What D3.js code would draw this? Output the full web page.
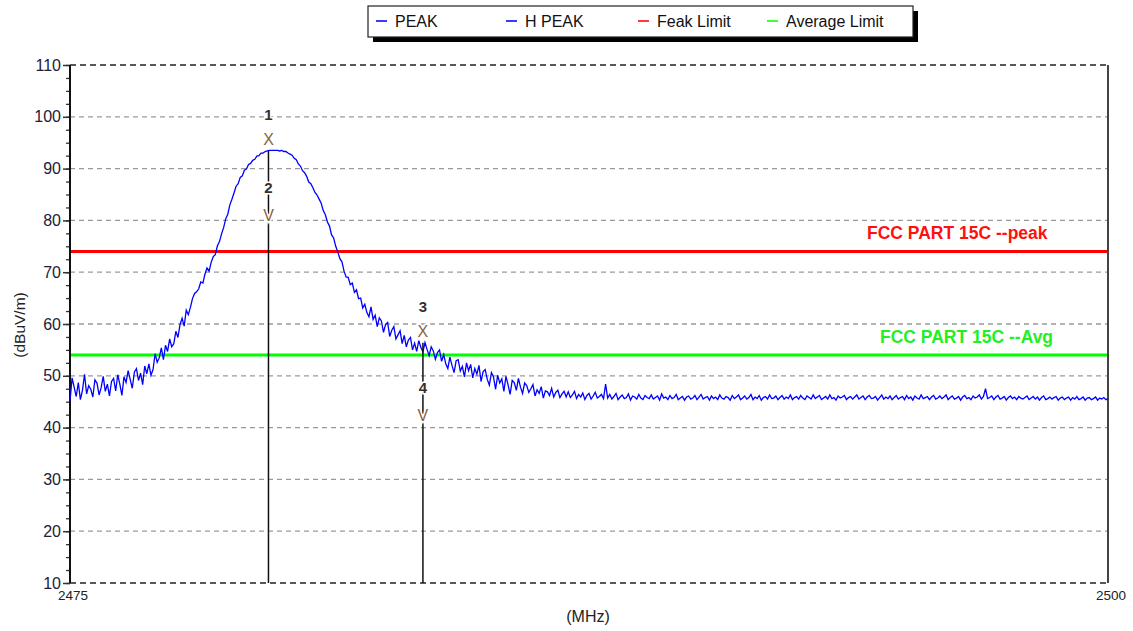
<!DOCTYPE html>
<html><head><meta charset="utf-8">
<script src="https://cdn.jsdelivr.net/npm/d3@7"></script>
<style>body{margin:0;background:#fff;} svg{display:block;font-family:"Liberation Sans",Arial,sans-serif;}</style>
</head><body><svg id="c" width="1133" height="631"></svg>
<script>
// ---------- data ----------
const freqStart = 2475, freqEnd = 2500, freqStep = 0.05;
const peakTrace = [
45.1,49.6,47.8,46.0,48.7,45.4,47.2,50.3,46.5,48.1,47.4,45.9,49.2,48.6,46.3,47.7,49.9,47.0,48.4,46.1,
48.9,49.5,47.1,50.2,48.4,46.2,49.8,48.7,51.0,49.3,47.6,50.7,51.4,49.1,50.5,48.3,51.9,50.4,52.3,50.1,
51.2,54.3,52.6,53.5,55.4,53.1,55.9,54.7,57.1,55.6,56.2,58.6,57.4,59.9,61.1,59.6,62.7,61.8,63.2,64.9,
65.9,66.2,66.8,68.1,67.9,69.6,70.8,70.2,71.9,73.0,73.4,75.1,75.9,77.4,78.6,80.3,81.2,83.0,84.1,85.3,
86.6,87.1,88.3,88.6,89.7,89.9,90.8,91.0,91.6,91.8,92.4,92.5,93.0,93.0,93.3,93.4,93.5,93.5,93.5,93.5,
93.5,93.4,93.5,93.3,93.3,93.0,92.8,92.6,92.0,91.7,90.9,90.5,89.6,89.2,88.5,87.4,87.1,86.3,85.4,84.9,
84.1,83.3,81.9,81.1,79.7,78.9,77.2,76.6,75.0,73.9,72.6,72.0,70.2,69.1,69.0,67.6,67.9,66.1,66.6,64.9,
65.0,63.1,63.8,62.2,61.4,63.3,60.9,61.7,59.5,61.2,60.6,58.4,59.9,60.3,57.6,58.8,59.5,57.1,57.9,58.7,
56.2,57.8,55.6,56.9,57.4,55.0,56.3,54.7,56.8,55.5,54.6,56.4,55.1,53.9,55.6,54.8,53.2,54.5,55.0,52.8,
54.1,52.3,51.4,53.6,52.0,50.6,52.9,53.1,50.9,51.8,49.8,52.5,51.0,52.2,49.6,51.4,50.3,52.0,48.9,50.8,
51.2,49.3,48.2,50.6,49.8,47.4,50.1,48.6,49.4,47.0,49.9,48.3,46.4,49.1,48.7,47.2,49.5,47.8,46.6,48.6,
48.1,46.8,47.5,48.3,46.1,47.3,46.6,47.9,45.7,47.1,46.9,46.2,47.6,45.9,46.8,47.2,45.8,46.5,47.0,45.9,
46.9,45.8,46.3,47.0,45.6,46.4,45.9,46.7,45.4,46.2,46.6,45.5,46.1,46.8,45.7,46.0,46.4,45.6,48.4,45.7,
46.4,45.5,46.0,46.6,45.4,45.9,46.3,45.6,45.8,46.5,45.3,46.1,45.9,45.5,46.4,45.7,45.4,46.2,45.8,45.6,
46.3,45.5,45.8,46.1,45.3,46.5,45.7,45.9,45.4,46.2,45.6,45.8,46.4,45.4,45.7,46.0,45.3,45.9,46.1,45.5,
45.7,46.2,45.4,45.9,46.4,45.5,45.8,46.0,45.3,46.1,45.6,45.9,45.4,46.3,45.7,45.5,46.0,45.8,45.3,46.2,
45.6,45.9,46.3,45.4,45.7,46.1,45.5,45.8,46.4,45.4,45.9,45.6,46.2,45.3,45.8,46.0,45.5,46.3,45.6,45.7,
46.1,45.4,45.8,46.2,45.5,45.9,45.6,46.3,45.4,45.8,46.0,45.5,46.2,45.7,45.4,46.1,45.8,45.5,46.3,45.6,
45.9,46.2,45.4,45.7,46.0,45.5,46.3,45.6,45.8,45.3,46.1,45.7,45.9,46.2,45.4,45.8,46.0,45.5,45.9,46.3,
45.5,45.8,46.1,45.4,45.9,46.2,45.6,45.7,46.0,45.3,45.8,46.3,45.5,45.9,45.6,46.1,45.4,45.8,46.2,45.5,
45.8,46.0,45.4,46.2,45.6,45.9,45.3,46.1,45.7,45.5,46.3,45.6,45.8,46.0,45.4,45.9,46.2,45.5,45.7,46.1,
45.6,45.9,46.3,45.4,45.8,46.1,45.5,45.7,46.0,45.3,45.9,46.2,45.6,45.8,45.4,46.1,45.7,45.9,46.3,45.5,
46.0,47.5,45.6,45.8,46.1,45.4,45.9,46.2,45.5,45.7,46.0,45.3,45.8,46.1,45.6,45.9,45.4,46.0,45.7,45.5,
45.8,46.1,45.4,45.7,46.0,45.5,45.9,45.3,45.8,46.1,45.4,45.6,45.9,45.5,45.8,46.0,45.3,45.7,45.9,45.4,
45.7,45.9,45.3,45.8,45.5,46.0,45.4,45.6,45.9,45.3,45.7,45.8,45.4,45.6,45.9,45.3,45.7,45.5,45.8,45.4,
45.6
];
const yTickValues = [10,20,30,40,50,60,70,80,90,100,110];
const xTickValues = [2475, 2500];
const xTickLabels = ["2475", "2500"];
const limitNames = ["FCC PART 15C --peak", "FCC PART 15C --Avg"];
const limitValues = [74, 54];
const legendNames = ["PEAK", "H PEAK", "Feak Limit", "Average Limit"];
const markerIds = [1, 2, 3, 4];
const markerFreqs = [2479.78, 2479.78, 2483.5, 2483.5];
const markerValues = [93.4, 79.8, 56.4, 41.2];
const markerTypes = ["X", "V", "X", "V"];

// ---------- styles ----------
const legendColors = ["#3a3aff", "#3a3aff", "#ff3a3a", "#3aff3a"];
const legendX = [376, 506, 638, 767];
const limitColors = ["#ff0000", "#00ff00"];
const limitLabelColors = ["#ff1010", "#22f022"];
const limitLabelX = [867, 880];

const svg = d3.select("#c");
const x = d3.scaleLinear().domain([freqStart, freqEnd]).range([70, 1108]);
const y = d3.scaleLinear().domain([10, 110]).range([583, 65]);

// gridlines
svg.append("g").selectAll("line").data(yTickValues.filter(v => v > 10 && v < 110)).join("line")
  .attr("x1", x(freqStart)).attr("x2", x(freqEnd))
  .attr("y1", d => y(d)).attr("y2", d => y(d))
  .attr("stroke", "#9a9a9a").attr("stroke-width", 1.3).attr("stroke-dasharray", "5,4");

// top & bottom dashed borders
svg.append("g").selectAll("line").data([10, 110]).join("line")
  .attr("x1", x(freqStart)).attr("x2", x(freqEnd))
  .attr("y1", d => y(d)).attr("y2", d => y(d))
  .attr("stroke", "#222").attr("stroke-width", 1.5).attr("stroke-dasharray", "6,4");
// right border
svg.append("line").attr("x1", x(freqEnd)).attr("x2", x(freqEnd)).attr("y1", y(110)).attr("y2", y(10))
  .attr("stroke", "#444").attr("stroke-width", 2);

// y axis with minor ticks
const yAxisG = svg.append("g").attr("transform", `translate(${x(freqStart)},0)`);
yAxisG.call(d3.axisLeft(y).tickValues(d3.range(10, 110.1, 2.5)).tickSize(4).tickFormat(""));
yAxisG.call(g => g.select(".domain").remove());
yAxisG.selectAll(".tick line").attr("stroke", "#333").attr("stroke-width", 1.3);
const yMajor = svg.append("g").attr("transform", `translate(${x(freqStart)},0)`)
  .call(d3.axisLeft(y).tickValues(yTickValues).tickSize(7).tickPadding(2).tickFormat(d3.format("d")));
yMajor.select(".domain").remove();
yMajor.selectAll(".tick line").attr("stroke", "#333").attr("stroke-width", 1.5);
yMajor.selectAll(".tick text").attr("font-size", 16).attr("fill", "#20203a")
  .attr("font-family", "Liberation Sans, Arial, sans-serif");
svg.append("line").attr("x1", x(freqStart)).attr("x2", x(freqStart)).attr("y1", y(110)).attr("y2", y(10))
  .attr("stroke", "#111").attr("stroke-width", 2);

// x tick labels
svg.append("g").selectAll("text").data(xTickValues).join("text")
  .attr("x", d => x(d) + 3).attr("y", 600).attr("text-anchor", "middle")
  .attr("font-size", 13.5).attr("fill", "#222")
  .text((d, i) => xTickLabels[i]);

// axis titles
svg.append("text").attr("x", 588).attr("y", 622).attr("text-anchor", "middle")
  .attr("font-size", 16).attr("fill", "#222").text("(MHz)");
svg.append("text").attr("transform", "translate(25,325) rotate(-90)").attr("text-anchor", "middle")
  .attr("font-size", 15.5).attr("fill", "#222").text("(dBuV/m)");

// limit lines
svg.append("g").selectAll("line").data(limitValues).join("line")
  .attr("x1", x(freqStart) + 1).attr("x2", x(freqEnd) - 1)
  .attr("y1", d => y(d)).attr("y2", d => y(d))
  .attr("stroke", (d, i) => limitColors[i]).attr("stroke-width", 3);
svg.append("g").selectAll("text").data(limitValues).join("text")
  .attr("x", (d, i) => limitLabelX[i]).attr("y", d => y(d) - 12)
  .attr("font-size", 17.5).attr("font-weight", "bold")
  .attr("fill", (d, i) => limitLabelColors[i])
  .text((d, i) => limitNames[i]);

// trace
const traceData = peakTrace.map((v, i) => [freqStart + i * freqStep, v]);
svg.append("path").datum(traceData)
  .attr("fill", "none").attr("stroke", "#0000ff").attr("stroke-width", 1.3)
  .attr("stroke-linejoin", "miter")
  .attr("d", d3.line().x(d => x(d[0])).y(d => y(d[1])));

// marker lines
const markerFreqSet = Array.from(new Set(markerFreqs));
svg.append("g").selectAll("line").data(markerFreqSet).join("line")
  .attr("x1", d => x(d)).attr("x2", d => x(d))
  .attr("y1", d => y(d3.max(markerValues.filter((v, i) => markerFreqs[i] === d))))
  .attr("y2", y(10))
  .attr("stroke", "#111").attr("stroke-width", 1.5);

// marker labels
const mg = svg.append("g");
markerIds.forEach((id, i) => {
  const px = x(markerFreqs[i]), py = y(markerValues[i]);
  const isX = markerTypes[i] === "X";
  mg.append("text").attr("x", px).attr("y", isX ? py - 6 : py)
    .attr("text-anchor", "middle").attr("font-size", 16)
    .attr("fill", "#8a6440").attr("stroke", "#fff").attr("stroke-width", 3)
    .attr("paint-order", "stroke").text(markerTypes[i]);
  mg.append("text").attr("x", px).attr("y", isX ? py - 31 : py - 28)
    .attr("text-anchor", "middle").attr("font-size", 15).attr("font-weight", "bold")
    .attr("fill", "#3a3028").attr("stroke", "#fff").attr("stroke-width", 3)
    .attr("paint-order", "stroke").text(id);
});

// legend
const lg = svg.append("g");
lg.append("rect").attr("x", 373).attr("y", 11).attr("width", 545).attr("height", 31).attr("fill", "#000");
lg.append("rect").attr("x", 368).attr("y", 6).attr("width", 545).attr("height", 31)
  .attr("fill", "#fff").attr("stroke", "#222").attr("stroke-width", 1.2);
legendNames.forEach((n, i) => {
  lg.append("line").attr("x1", legendX[i]).attr("x2", legendX[i] + 11).attr("y1", 21).attr("y2", 21)
    .attr("stroke", legendColors[i]).attr("stroke-width", 2);
  lg.append("text").attr("x", legendX[i] + 19).attr("y", 27).attr("font-size", 16)
    .attr("fill", "#111").text(n);
});
</script>
</body></html>
